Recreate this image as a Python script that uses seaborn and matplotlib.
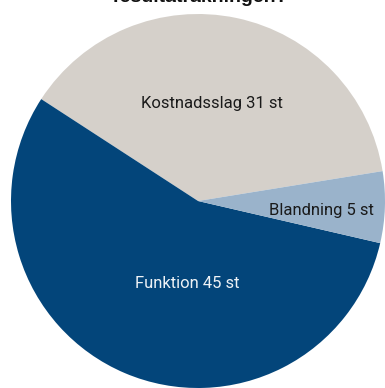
import matplotlib
matplotlib.use("Agg")
import matplotlib.pyplot as plt
import seaborn as sns

categories = ["Kostnadsslag", "Funktion", "Blandning"]
counts = [31, 45, 5]
colors = ["#d5d0ca", "#03457a", "#9ab3cb"]
label_colors = ["#1a1a1a", "#eef2f6", "#1a1a1a"]
label_pos = [(0.075, 0.52), (-0.06, -0.44), (0.66, -0.05)]

sns.set_theme(style="white")
plt.rcParams["font.family"] = ["Roboto", "DejaVu Sans"]

W, H = 385, 388
fig = plt.figure(figsize=(W / 100, H / 100), dpi=100)
cx, cy, r = 198, 201, 187
ax = fig.add_axes([(cx - r) / W, (H - cy - r) / H, 2 * r / W, 2 * r / H])

start = 9.2
ax.pie(counts, colors=colors, startangle=start, counterclock=True,
       radius=1, wedgeprops=dict(linewidth=0))
ax.set_xlim(-1, 1)
ax.set_ylim(-1, 1)
ax.set_aspect("equal")
ax.axis("off")

for name, n, col, (x, y) in zip(categories, counts, label_colors, label_pos):
    ax.text(x, y, f"{name} {n} st", ha="center", va="center",
            fontsize=12, color=col, fontstretch="condensed")

fig.text(0.52, 1 - 2 / H, "resultaträkningen?", ha="center", va="baseline",
         fontsize=14, fontweight="bold", color="#111111",
         family=["Liberation Sans", "DejaVu Sans"])

fig.savefig("out.png", dpi=100, facecolor="white")
